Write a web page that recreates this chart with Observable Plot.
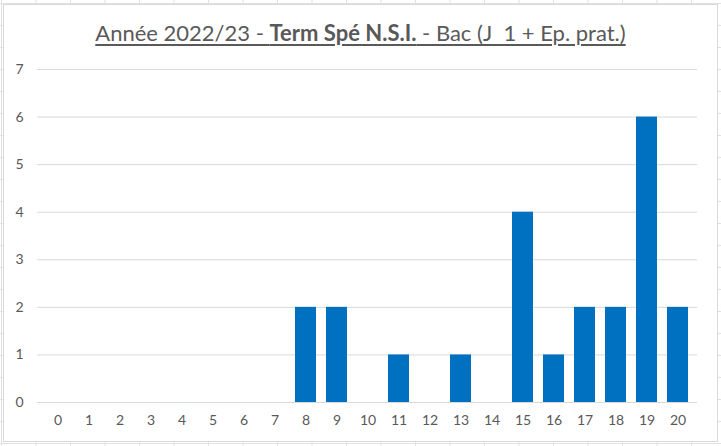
<!DOCTYPE html>
<html>
<head>
<meta charset="utf-8">
<script src="https://cdn.jsdelivr.net/npm/d3@7"></script>
<script src="https://cdn.jsdelivr.net/npm/@observablehq/plot@0.6"></script>
<style>
  html, body { margin: 0; padding: 0; }
  body {
    width: 721px; height: 446px; overflow: hidden; position: relative;
    background-color: #fff;
    background-image:
      linear-gradient(to right, #e1e1e1 1px, transparent 1px),
      linear-gradient(to bottom, #e1e1e1 1px, transparent 1px);
    background-size: 34.5px 22px, 34.5px 22px;
    background-position: 1px 3px, 0 3px;
    font-family: Lato, "Open Sans", sans-serif;
  }
  #frame {
    position: absolute; left: 3px; top: 4px; width: 713px; height: 436px;
    background: #fff; border: 1px solid #d9d9d9;
  }
  #title {
    position: absolute; left: 0; top: 19px; width: 721px; text-align: center;
    font-size: 22px; color: #595959; text-decoration: underline;
    text-decoration-thickness: 1.5px; text-underline-offset: 3px;
    white-space: pre;
  }
  #chart { position: absolute; left: 0; top: 50px; }
</style>
</head>
<body>
<div id="frame"></div>
<div id="title">Année 2022/23 - <b>Term Spé N.S.I.</b> - Bac (J  1 + Ep. prat.)</div>
<div id="chart"></div>
<script>
const notes = [0,1,2,3,4,5,6,7,8,9,10,11,12,13,14,15,16,17,18,19,20];
const effectifs = [0,0,0,0,0,0,0,0,2,2,0,1,0,1,0,4,1,2,2,6,2];
const yTicks = [0,1,2,3,4,5,6,7];

const data = notes.map((n, i) => ({note: n, effectif: effectifs[i]}));

const plot = Plot.plot({
  width: 721,
  height: 396,
  marginLeft: 37,
  marginRight: 24,
  marginTop: 19,
  marginBottom: 44,
  style: {background: "transparent", fontFamily: "Lato, 'Open Sans', sans-serif"},
  x: {domain: notes, paddingInner: 0.33, paddingOuter: 0.165, label: null},
  y: {domain: [0, 7], label: null},
  marks: [
    Plot.gridY(yTicks, {stroke: "#d9d9d9", strokeOpacity: 1}),
    Plot.barY(data, {x: "note", y: "effectif", fill: "#0070c0"}),
    Plot.ruleY([0], {stroke: "#d9d9d9"}),
    Plot.axisX({tickSize: 0, tickPadding: 13, fontSize: 14, fill: "#595959", label: null}),
    Plot.axisY(yTicks, {tickSize: 0, tickPadding: 14, fontSize: 14, fill: "#595959", label: null})
  ]
});
document.getElementById("chart").appendChild(plot);
</script>
</body>
</html>
